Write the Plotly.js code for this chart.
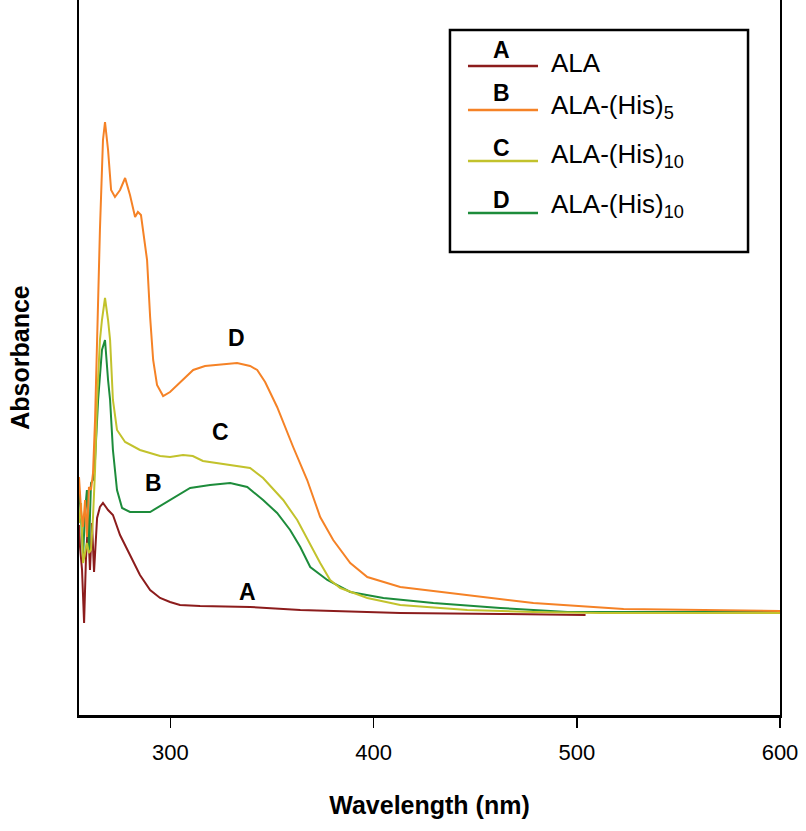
<!DOCTYPE html>
<html>
<head>
<meta charset="utf-8">
<script src="https://cdn.plot.ly/plotly-3.0.1.min.js"></script>
<style>html,body{margin:0;padding:0;background:#fff;}#chart{width:806px;height:831px;}</style>
</head>
<body>
<div id="chart"></div>
<script>
// Wavelength (nm) and absorbance (a.u.)
const wlA = [255.0,255.5,256.5,257.5,258.4,259.4,260.4,261.4,262.4,263.9,265.3,266.8,269.3,271.7,275.2,280.1,285.0,290.0,294.9,299.8,304.7,314.6,339.2,363.9,413.1,462.4,504.3];
const absA = [0.380,0.336,0.290,0.184,0.310,0.384,0.290,0.384,0.286,0.394,0.416,0.424,0.410,0.400,0.360,0.320,0.280,0.250,0.234,0.226,0.220,0.218,0.216,0.210,0.204,0.202,0.200];

const wlB = [255.0,256.0,257.0,258.0,258.9,259.9,260.9,261.9,262.9,263.9,265.3,266.8,267.8,269.3,270.8,272.7,275.2,277.7,280.1,282.6,284.0,285.5,287.0,288.5,290.0,291.5,293.4,296.4,299.8,306.2,311.2,317.0,323.0,332.8,339.2,342.7,346.6,352.5,360.4,367.3,373.7,380.1,388.5,396.9,413.1,446.1,478.6,523.0,585.5,600.3];
const absB = [0.476,0.410,0.376,0.430,0.356,0.456,0.450,0.484,0.590,0.750,0.970,1.150,1.186,1.130,1.050,1.036,1.050,1.074,1.040,0.996,1.006,1.000,0.950,0.910,0.796,0.710,0.660,0.638,0.646,0.670,0.690,0.698,0.700,0.704,0.698,0.690,0.666,0.616,0.536,0.470,0.396,0.350,0.304,0.276,0.256,0.240,0.224,0.212,0.208,0.208];

const wlC = [255.0,256.0,257.0,258.0,258.9,259.9,260.9,261.9,262.9,263.9,265.3,266.3,267.8,269.3,270.3,271.7,273.7,277.7,285.0,294.9,299.8,306.2,311.0,316.0,322.0,330.0,339.2,345.6,355.5,362.4,368.8,373.7,378.6,383.6,396.9,413.1,446.1,478.6,511.6,600.3];
const absC = [0.384,0.424,0.304,0.324,0.344,0.324,0.330,0.396,0.490,0.630,0.750,0.790,0.834,0.790,0.750,0.630,0.570,0.546,0.530,0.518,0.516,0.520,0.518,0.508,0.504,0.500,0.494,0.474,0.430,0.390,0.340,0.304,0.270,0.254,0.234,0.220,0.210,0.206,0.204,0.204];

const wlD = [255.0,256.0,257.0,258.0,258.9,259.9,260.9,261.9,262.9,264.4,266.3,267.8,269.3,270.3,271.7,273.7,276.2,280.1,290.0,299.8,309.7,319.5,329.4,337.8,345.6,352.5,358.9,363.9,368.8,377.2,388.5,404.8,429.4,462.4,495.4,600.3];
const absD = [0.450,0.396,0.316,0.410,0.450,0.330,0.464,0.470,0.510,0.630,0.730,0.750,0.670,0.630,0.530,0.450,0.414,0.406,0.406,0.430,0.454,0.460,0.464,0.456,0.430,0.404,0.370,0.336,0.296,0.270,0.246,0.234,0.224,0.214,0.206,0.206];

const seriesLetters = ['A','B','C','D'];
const seriesNames = ['ALA','ALA-(His)<sub>5</sub>','ALA-(His)<sub>10</sub>','ALA-(His)<sub>10</sub>'];
const seriesColors = ['#8c1c1c','#f58226','#c2c22c','#1d8c3b'];
const xTicks = [300,400,500,600];

// in-plot curve labels
const labelText = ['D','C','B','A'];
const labelX = [332.3,324.5,291.5,337.8];
const labelY = [0.754,0.566,0.464,0.246];

const xs = [wlA,wlB,wlC,wlD];
const ys = [absA,absB,absC,absD];
const traces = xs.map((x,i)=>({
  x:x, y:ys[i], type:'scatter', mode:'lines', name:seriesNames[i],
  line:{color:seriesColors[i], width:2}, showlegend:false, hoverinfo:'skip'
}));
// draw order so orange is on top
const order = [0,3,2,1];
const data = order.map(i=>traces[i]);

const F = 'Liberation Sans, Arial';
const annotations = [];
labelText.forEach((t,i)=>annotations.push({x:labelX[i],y:labelY[i],xref:'x',yref:'y',text:'<b>'+t+'</b>',showarrow:false,font:{family:F,size:23,color:'#000'}}));

// legend (drawn in paper coords)
const legLineY = [0.9077,0.8462,0.7748,0.7021];
const legLetterY = [0.9294,0.8706,0.7930,0.7203];
const legTextY = [0.9112,0.851,0.783,0.7127];
const shapes = [{type:'rect',xref:'paper',yref:'paper',x0:0.5292,x1:0.9544,y0:0.6476,y1:0.958,line:{color:'#000',width:2.5},fillcolor:'rgba(0,0,0,0)'}];
seriesLetters.forEach((L,i)=>{
  shapes.push({type:'line',xref:'paper',yref:'paper',x0:0.5549,x1:0.6548,y0:legLineY[i],y1:legLineY[i],line:{color:seriesColors[i],width:2.5}});
  annotations.push({xref:'paper',yref:'paper',x:0.6034,y:legLetterY[i],text:'<b>'+L+'</b>',showarrow:false,font:{family:F,size:23,color:'#000'},xanchor:'center',yanchor:'middle'});
  annotations.push({xref:'paper',yref:'paper',x:0.6705,y:legTextY[i],text:seriesNames[i],showarrow:false,font:{family:F,size:26,color:'#000'},xanchor:'left',yanchor:'middle'});
});

const layout = {
  width:806,height:831,
  margin:{l:79,r:26,t:0,b:116},
  paper_bgcolor:'#fff',plot_bgcolor:'#fff',
  font:{family:F,color:'#000'},
  xaxis:{range:[255,600],tickvals:xTicks,ticktext:xTicks.map(String),ticks:'outside',ticklen:10,tickwidth:1.5,tickcolor:'#000',
    ticklabelstandoff:6,
    showline:true,linecolor:'#000',linewidth:2.5,showgrid:false,zeroline:false,
    tickfont:{family:F,size:22,color:'#000'},
    title:{text:'<b>Wavelength (nm)</b>',font:{family:F,size:25,color:'#000'},standoff:33}},
  yaxis:{range:[0,1.43],showticklabels:false,ticks:'',showline:true,mirror:true,linecolor:'#000',linewidth:2,showgrid:false,zeroline:false,
    title:{text:'<b>Absorbance</b>',font:{family:F,size:25,color:'#000'},standoff:40}},
  shapes:shapes,annotations:annotations
};
Plotly.newPlot('chart',data,layout,{displayModeBar:false,staticPlot:true});
</script>
</body>
</html>
